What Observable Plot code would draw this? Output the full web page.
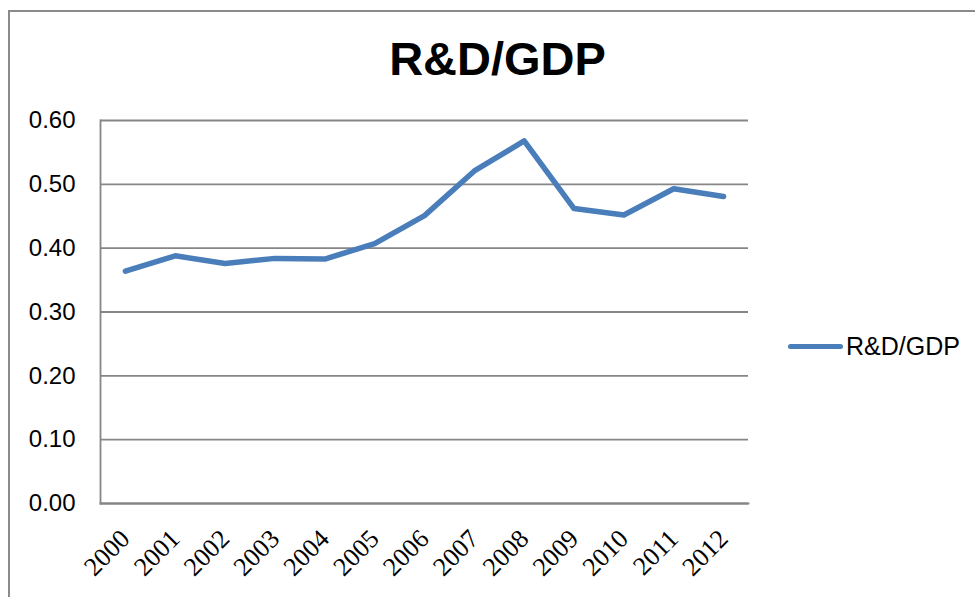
<!DOCTYPE html>
<html>
<head>
<meta charset="utf-8">
<script src="https://cdn.jsdelivr.net/npm/d3@7"></script>
<script src="https://cdn.jsdelivr.net/npm/@observablehq/plot@0.6"></script>
<style>
  html, body { margin: 0; padding: 0; background: #fff; overflow: hidden; }
  #wrap { position: relative; width: 975px; height: 597px; overflow: hidden; font-family: "Liberation Sans", Arial, sans-serif; }
  #frame { position: absolute; left: 8px; top: 10px; width: 1100px; height: 800px; border: 2px solid #8a8a8a; box-sizing: border-box; }
  #title { position: absolute; left: 0; width: 995px; top: 29px; text-align: center; font-weight: bold; font-size: 47px; color: #000; line-height: 60px; }
  #legend { position: absolute; left: 788px; top: 330px; height: 32px; display: flex; align-items: center; font-size: 25px; color: #000; }
  #legend .sw { width: 55px; height: 5px; border-radius: 3px; background: #4a7ebb; margin-right: 3px; }
  #chart { position: absolute; left: 0; top: 0; }
</style>
</head>
<body>
<div id="wrap">
  <div id="frame"></div>
  <div id="chart"></div>
  <div id="title">R&amp;D/GDP</div>
  <div id="legend"><span class="sw"></span><span id="legtext">R&amp;D/GDP</span></div>
</div>
<script>
const years = ["2000","2001","2002","2003","2004","2005","2006","2007","2008","2009","2010","2011","2012"];
const values = [0.364, 0.388, 0.376, 0.384, 0.383, 0.407, 0.451, 0.521, 0.568, 0.462, 0.452, 0.493, 0.481];
const yTicks = [0, 0.1, 0.2, 0.3, 0.4, 0.5, 0.6];
const seriesName = "R&D/GDP";

const data = years.map((y, i) => ({year: y, value: values[i]}));

const plot = Plot.plot({
  width: 975,
  height: 597,
  marginLeft: 100,
  marginRight: 227,
  marginTop: 120,
  marginBottom: 94,
  style: {fontFamily: "Liberation Sans, Arial, sans-serif", background: "transparent", color: "#000"},
  x: {type: "point", domain: years, padding: 0.5, round: false, label: null},
  y: {domain: [0, 0.6], label: null},
  marks: [
    Plot.gridY(yTicks, {stroke: "#868686", strokeOpacity: 1, strokeWidth: 1.8}),
    Plot.axisY(yTicks, {tickFormat: d3.format(".2f"), tickSize: 0, tickPadding: 25, fontSize: 24, label: null}),
    Plot.axisX({tickSize: 0, tickRotate: -45, tickPadding: 31, dx: 0, fontSize: 26, label: null, fontFamily: "Liberation Serif, Times New Roman, serif"}),
    Plot.frame({anchor: "left", stroke: "#868686", strokeWidth: 1.8}),
    Plot.frame({anchor: "bottom", stroke: "#868686", strokeWidth: 1.8}),
    Plot.line(data, {x: "year", y: "value", stroke: "#4a7ebb", strokeWidth: 5.5, strokeLinejoin: "round", strokeLinecap: "round"})
  ]
});
document.getElementById("chart").appendChild(plot);
document.getElementById("legtext").textContent = seriesName;
</script>
</body>
</html>
